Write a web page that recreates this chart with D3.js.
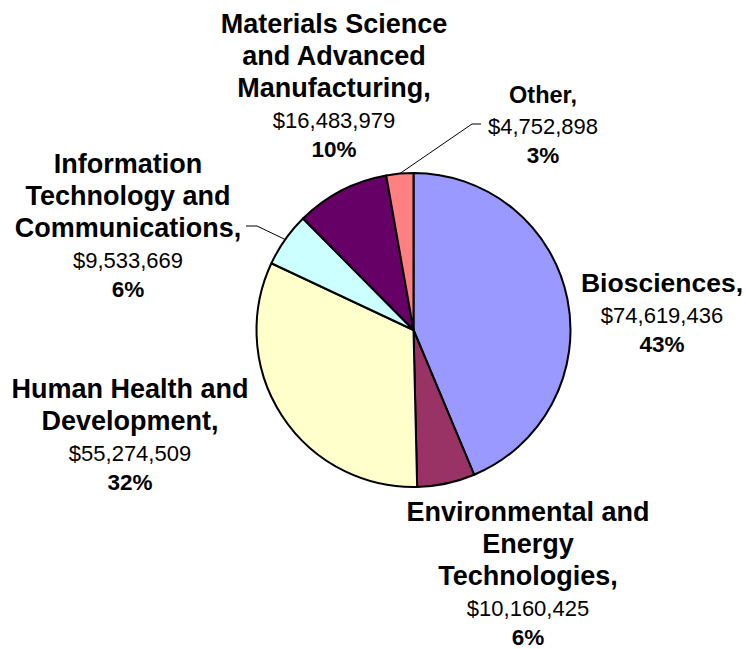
<!DOCTYPE html>
<html>
<head>
<meta charset="utf-8">
<script src="https://cdn.jsdelivr.net/npm/d3@7"></script>
<style>
  html, body { margin: 0; padding: 0; background: #fff; }
  svg { display: block; }
  text { font-family: Arial, "Liberation Sans", sans-serif; fill: #000; }
</style>
</head>
<body>
<svg id="chart" width="746" height="649"></svg>
<script>
// ---- data ----
const categories = [
  "Biosciences",
  "Environmental and Energy Technologies",
  "Human Health and Development",
  "Information Technology and Communications",
  "Materials Science and Advanced Manufacturing",
  "Other"
];
const values = [74619436, 10160425, 55274509, 9533669, 16483979, 4752898];
const percentLabels = ["43%", "6%", "32%", "6%", "10%", "3%"];
const nameLines = [
  ["Biosciences,"],
  ["Environmental and", "Energy", "Technologies,"],
  ["Human Health and", "Development,"],
  ["Information", "Technology and", "Communications,"],
  ["Materials Science", "and Advanced", "Manufacturing,"],
  ["Other,"]
];
const colors = ["#9999FF", "#993366", "#FFFFCC", "#CCFFFF", "#660066", "#FF8080"];

// ---- layout (positions only) ----
const W = 746, H = 649;
const cx = 413.5, cy = 330, R = 157;
const labelPos = [
  {x: 662, y: 292, nameSize: 26.5},
  {x: 528, y: 521, nameSize: 27},
  {x: 130, y: 398, nameSize: 27},
  {x: 128, y: 173, nameSize: 27},
  {x: 334, y: 33,  nameSize: 27},
  {x: 543, y: 103, nameSize: 23.5}
];
// leader lines: [text-end point, knee point] ; end is the slice centroid on the rim
const leaders = {
  3: [[246, 226], [257, 226]],
  5: [[481, 124], [472, 124]]
};

const svg = d3.select("#chart");
const fmt = d3.format("$,");

const pie = d3.pie().sort(null).value(d => d);
const arcs = pie(values);
const arc = d3.arc().innerRadius(0).outerRadius(R);

const g = svg.append("g").attr("transform", `translate(${cx},${cy})`);
g.selectAll("path.slice")
  .data(arcs)
  .join("path")
  .attr("class", "slice")
  .attr("d", arc)
  .attr("fill", (d, i) => colors[i])
  .attr("stroke", "#000")
  .attr("stroke-width", 2)
  .attr("stroke-linejoin", "round");

// leader lines
Object.keys(leaders).forEach(k => {
  const i = +k;
  const a = (arcs[i].startAngle + arcs[i].endAngle) / 2;
  const end = [cx + R * Math.sin(a), cy - R * Math.cos(a)];
  const pts = leaders[k].concat([end]);
  svg.append("path")
    .attr("d", d3.line()(pts))
    .attr("fill", "none")
    .attr("stroke", "#000")
    .attr("stroke-width", 1);
});

// labels
categories.forEach((c, i) => {
  const p = labelPos[i];
  const t = svg.append("text").attr("text-anchor", "middle");
  let y = p.y;
  nameLines[i].forEach((ln, j) => {
    if (j > 0) y += 32;
    t.append("tspan").attr("x", p.x).attr("y", y)
      .attr("font-weight", "bold").attr("font-size", p.nameSize).text(ln);
  });
  y += 31;
  t.append("tspan").attr("x", p.x).attr("y", y)
    .attr("font-size", 22).text(fmt(values[i]));
  y += 29;
  t.append("tspan").attr("x", p.x).attr("y", y)
    .attr("font-weight", "bold").attr("font-size", 22.5).text(percentLabels[i]);
});
</script>
</body>
</html>
